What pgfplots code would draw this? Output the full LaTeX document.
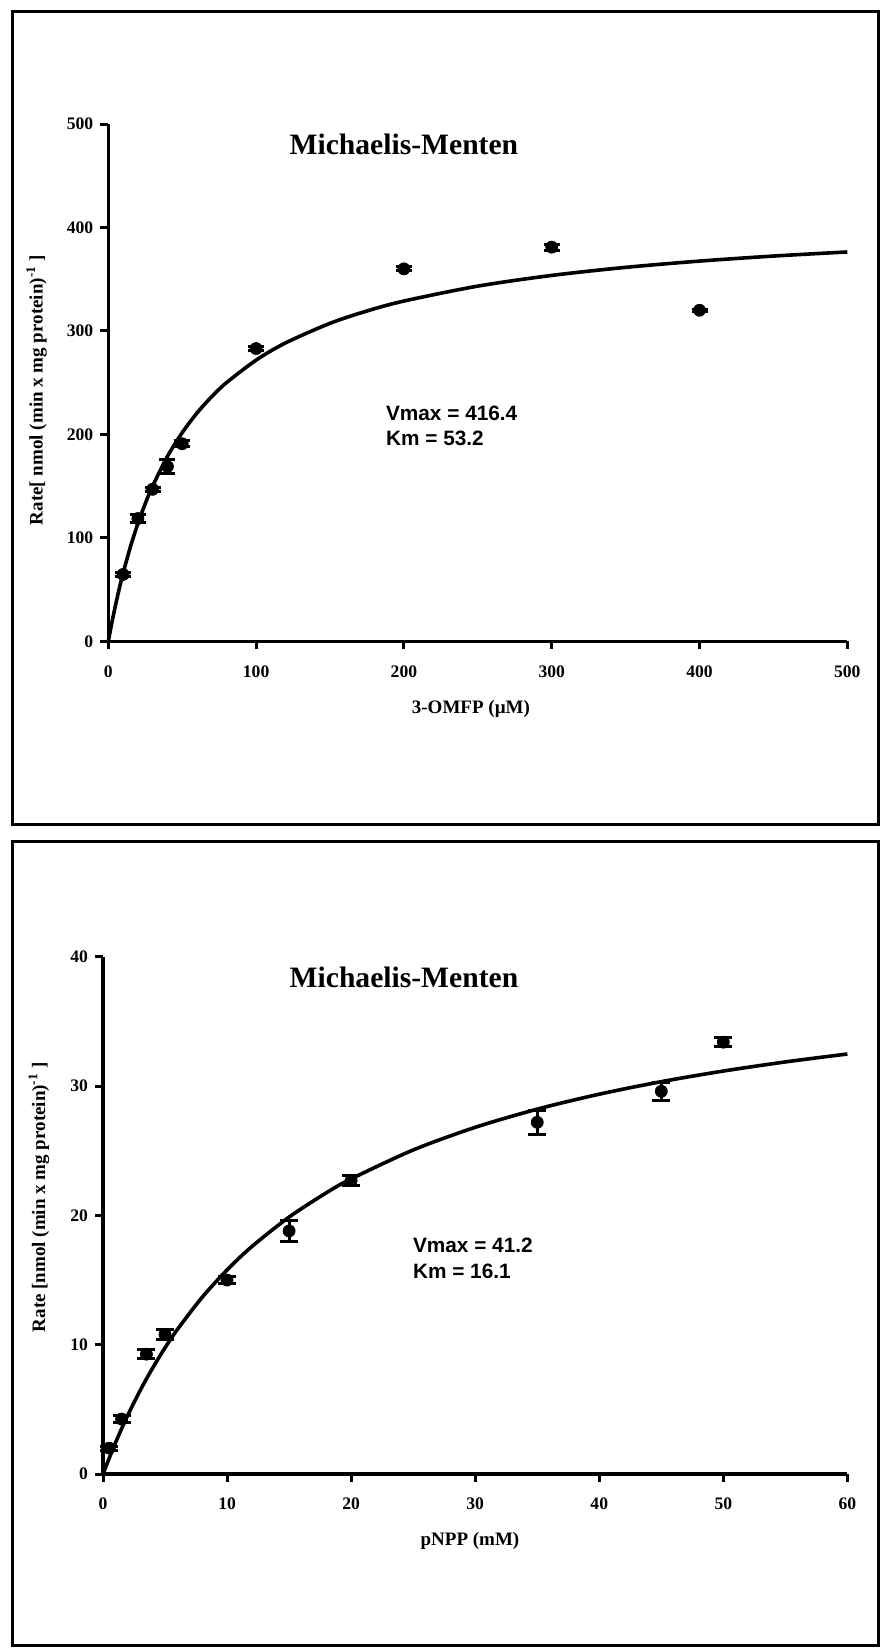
\documentclass[border=0pt]{standalone}
\usepackage{pgfplots}
\pgfplotsset{compat=1.18}
\usepackage{fontspec}
\setmainfont{Liberation Serif}
\newfontfamily\arialfont{Liberation Sans}

\pgfplotsset{
  mmaxis/.style={
    scale only axis,
    axis x line*=bottom,
    axis y line*=left,
    axis line style={-, line width=1.6pt},
    enlargelimits=false,
    clip=false,
    tick align=outside,
    major tick length=4pt,
    tick style={line width=1.5pt, black},
    /pgf/number format/assume math mode=true,
    xticklabel={\textbf{\pgfmathprintnumber[assume math mode=true]{\tick}}},
    yticklabel={\textbf{\pgfmathprintnumber[assume math mode=true]{\tick}}},
    tick label style={font=\fontsize{8.8}{10}\selectfont\bfseries},
    xticklabel style={yshift=-4.5pt},
    label style={font=\fontsize{9.5}{11}\selectfont\bfseries},
  },
  datapts/.style={
    only marks, mark=*, mark size=3pt, mark options={fill=black, draw=black},
    error bars/.cd, y dir=both, y explicit,
    error bar style={line width=1.5pt, black},
    error mark options={rotate=90, mark size=#1, line width=1.5pt, black},
  },
  fitline/.style={no markers, smooth, line width=1.8pt, black},
}

\begin{document}
\begin{tikzpicture}
\useasboundingbox (0,0) rectangle (440pt,-824pt);
% panel frames
\draw[line width=1.5pt] (6pt,-5.75pt) rectangle (439.25pt,-412.25pt);
\draw[line width=1.5pt] (6pt,-420.5pt) rectangle (439.25pt,-822.75pt);

% ---------- top panel: 3-OMFP ----------
\begin{axis}[mmaxis,
  at={(54.15pt,-320.7pt)}, anchor=south west,
  width=369.5pt, height=258.7pt,
  xmin=0, xmax=500, ymin=0, ymax=500,
  xtick={0,100,200,300,400,500},
  ytick={0,100,200,300,400,500},
  xlabel={3-OMFP (µM)},
  ylabel={Rate[ nmol (min x mg protein)\textsuperscript{-1} ]},
  xlabel style={at={(axis description cs:0.4907,-0.1307)}, anchor=center},
  ylabel style={at={(axis description cs:-0.0971,0.486)}, anchor=center, rotate=0},
]
\addplot[fitline] coordinates {
(0,0) (1,7.68) (2,15.09) (3,22.23) (5,35.77) (7,48.42) (10,65.89) (15,91.58)
(20,113.77) (25,133.12) (30,150.14) (40,178.71) (50,201.74) (60,220.71)
(70,236.59) (80,250.09) (100,271.80) (120,288.50) (150,307.38) (175,319.32)
(200,328.91) (250,343.34) (300,353.68) (350,361.46) (400,367.52) (450,372.38)
(500,376.36)};
\addplot[datapts=4pt] table[x=x, y=y, y error=e] {
x y e
10 64.7 2
20 118.7 3.5
30 147 2
40 169 7
50 191 3
100 283 2
200 360 2
300 381 3
400 320 1
};
\node[font=\fontsize{14.8}{17}\selectfont\bfseries, anchor=center] at (axis description cs:0.400,0.9613) {Michaelis-Menten};
\node[font=\arialfont\fontsize{10.4}{12.5}\selectfont\bfseries, anchor=base west] at (axis description cs:0.3663,0.427) {Vmax = 416.4};
\node[font=\arialfont\fontsize{10.4}{12.5}\selectfont\bfseries, anchor=base west] at (axis description cs:0.3663,0.3786) {Km = 53.2};
\end{axis}

% ---------- bottom panel: pNPP ----------
\begin{axis}[mmaxis,
  at={(51.5pt,-737pt)}, anchor=south west,
  width=372.2pt, height=258.6pt,
  xmin=0, xmax=60, ymin=0, ymax=40,
  xtick={0,10,20,30,40,50,60},
  ytick={0,10,20,30,40},
  xlabel={pNPP (mM)},
  ylabel={Rate [nmol (min x mg protein)\textsuperscript{-1} ]},
  xlabel style={at={(axis description cs:0.493,-0.1295)}, anchor=center},
  ylabel style={at={(axis description cs:-0.086,0.5356)}, anchor=center, rotate=0},
]
\addplot[fitline] coordinates {
(0,0) (1,2.409) (2,4.552) (3,6.471) (4,8.199) (5,9.763) (6,11.186) (8,13.676)
(10,15.785) (12,17.594) (15,19.871) (18,21.748) (20,22.825) (25,25.061)
(30,26.811) (35,28.219) (40,29.376) (45,30.344) (50,31.165) (55,31.871)
(60,32.484)};
\addplot[datapts=4.5pt] table[x=x, y=y, y error=e] {
x y e
0.5 2.0 0.15
1.5 4.25 0.3
3.5 9.27 0.33
5 10.8 0.4
10 15.0 0.3
15 18.8 0.8
20 22.7 0.38
35 27.2 0.95
45 29.6 0.7
50 33.4 0.35
};
\node[font=\fontsize{14.8}{17}\selectfont\bfseries, anchor=center] at (axis description cs:0.4043,0.961) {Michaelis-Menten};
\node[font=\arialfont\fontsize{10.4}{12.5}\selectfont\bfseries, anchor=base west] at (axis description cs:0.407,0.4283) {Vmax = 41.2};
\node[font=\arialfont\fontsize{10.4}{12.5}\selectfont\bfseries, anchor=base west] at (axis description cs:0.407,0.378) {Km = 16.1};
\end{axis}
\end{tikzpicture}
\end{document}
